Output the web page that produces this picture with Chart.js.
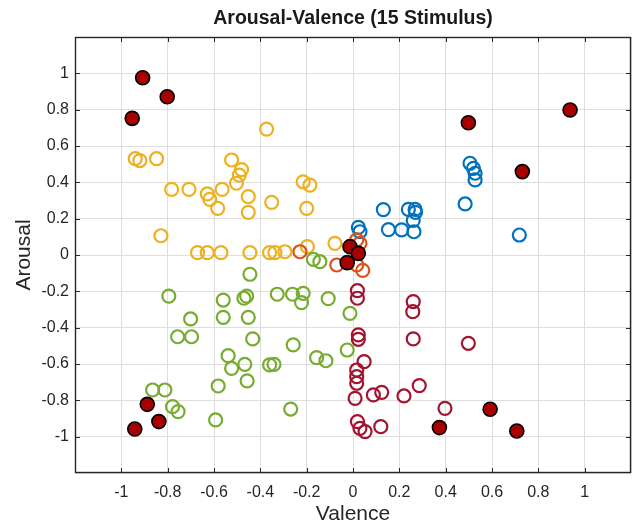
<!DOCTYPE html>
<html>
<head>
<meta charset="utf-8">
<script src="https://cdn.jsdelivr.net/npm/chart.js@4"></script>
<style>
  html, body { margin: 0; padding: 0; background: #ffffff; }
  #wrap { width: 633px; height: 525px; }
</style>
</head>
<body>
<div id="wrap"><canvas id="c" width="633" height="525"></canvas></div>
<script>
// ---- Data (Valence = x, Arousal = y) ----
const titleText = 'Arousal-Valence (15 Stimulus)';
const xTitle = 'Valence';
const yTitle = 'Arousal';
const tickValues = [-1, -0.8, -0.6, -0.4, -0.2, 0, 0.2, 0.4, 0.6, 0.8, 1];

// 15 stimulus points (filled dark red)
const stimX = [-0.908, -0.802, -0.953, 0.498, 0.937, 0.731, -0.013, 0.023, -0.025, -0.888, -0.838, -0.942, 0.373, 0.592, 0.707];
const stimY = [0.976, 0.871, 0.752, 0.728, 0.798, 0.459, 0.046, 0.009, -0.042, -0.822, -0.917, -0.958, -0.950, -0.849, -0.969];

// blue (high valence / high arousal)
const blueX = [0.023, 0.030, 0.131, 0.239, 0.268, 0.260, 0.153, 0.210, 0.263, 0.270, 0.505, 0.520, 0.527, 0.527, 0.484, 0.718];
const blueY = [0.152, 0.128, 0.250, 0.251, 0.251, 0.190, 0.140, 0.138, 0.128, 0.235, 0.505, 0.477, 0.450, 0.413, 0.281, 0.110];

// orange (near neutral)
const orangeX = [0.016, 0.030, -0.070, 0.016, 0.042, -0.229];
const orangeY = [0.083, 0.064, -0.055, -0.055, -0.085, 0.018];

// yellow (low valence / high arousal)
const yellowX = [-0.940, -0.920, -0.848, -0.373, -0.524, -0.481, -0.491, -0.503, -0.783, -0.708, -0.629, -0.618, -0.565,
                 -0.584, -0.452, -0.452, -0.829, -0.671, -0.629, -0.570, -0.445, -0.360, -0.337, -0.294, -0.351, -0.215,
                 -0.186, -0.200, -0.197, -0.078];
const yellowY = [0.530, 0.520, 0.530, 0.693, 0.523, 0.470, 0.440, 0.395, 0.361, 0.361, 0.336, 0.306, 0.361,
                 0.257, 0.321, 0.235, 0.106, 0.013, 0.013, 0.013, 0.013, 0.013, 0.013, 0.018, 0.290, 0.403,
                 0.385, 0.257, 0.046, 0.064];

// green (low valence / low arousal)
const greenX = [-0.445, -0.795, -0.560, -0.459, -0.471, -0.701, -0.757, -0.697, -0.560, -0.452, -0.433, -0.539, -0.524,
                -0.467, -0.457, -0.582, -0.360, -0.865, -0.812, -0.779, -0.755, -0.593, -0.171, -0.143, -0.327, -0.261,
                -0.215, -0.222, -0.107, -0.013, -0.258, -0.157, -0.117, -0.025, -0.341, -0.269];
const greenY = [-0.106, -0.226, -0.248, -0.226, -0.238, -0.352, -0.450, -0.450, -0.343, -0.343, -0.462, -0.554, -0.624,
                -0.602, -0.693, -0.721, -0.605, -0.743, -0.743, -0.835, -0.862, -0.908, -0.024, -0.037, -0.216, -0.216,
                -0.211, -0.262, -0.240, -0.321, -0.495, -0.565, -0.582, -0.523, -0.602, -0.848];

// crimson (high valence / low arousal)
const crimsonX = [0.019, 0.019, 0.260, 0.258, 0.023, 0.023, 0.048, 0.016, 0.016, 0.016, 0.009, 0.088, 0.124, 0.220,
                  0.286, 0.260, 0.019, 0.030, 0.052, 0.120, 0.498, 0.397];
const crimsonY = [-0.196, -0.238, -0.257, -0.312, -0.440, -0.464, -0.587, -0.633, -0.670, -0.706, -0.789, -0.770, -0.756, -0.776,
                  -0.719, -0.462, -0.917, -0.954, -0.972, -0.945, -0.486, -0.844];

function pts(xs, ys) { return xs.map((x, i) => ({ x: x, y: ys[i] })); }

function hollow(label, xs, ys, color) {
  return {
    label: label, data: pts(xs, ys), showLine: false, xAxisID: 'x', yAxisID: 'y',
    pointStyle: 'circle', pointRadius: 6.5, pointHoverRadius: 6.5,
    pointBorderWidth: 2.2, borderColor: color, pointBorderColor: color,
    backgroundColor: 'rgba(0,0,0,0)', pointBackgroundColor: 'rgba(0,0,0,0)'
  };
}

const fmt = v => {
  const r = Math.round(v * 10) / 10;
  if (Math.abs(r) > 1.05) return '';
  return String(r === 0 ? 0 : r);
};

const framePlugin = {
  id: 'frame',
  afterDraw(chart) {
    const { ctx, chartArea: a, scales } = chart;
    ctx.save();
    ctx.strokeStyle = '#262626';
    ctx.lineWidth = 1;
    ctx.beginPath();
    const L = 5;
    for (const v of tickValues) {
      const px = Math.round(scales.x.getPixelForValue(v)) + 0.5;
      ctx.moveTo(px, a.bottom); ctx.lineTo(px, a.bottom - L);
      ctx.moveTo(px, a.top); ctx.lineTo(px, a.top + L);
      const py = Math.round(scales.y.getPixelForValue(v)) + 0.5;
      ctx.moveTo(a.left, py); ctx.lineTo(a.left + L, py);
      ctx.moveTo(a.right, py); ctx.lineTo(a.right - L, py);
    }
    ctx.stroke();
    ctx.lineWidth = 1.4;
    ctx.strokeRect(a.left + 0.5, a.top + 0.5, a.right - a.left - 1, a.bottom - a.top - 1);
    ctx.restore();
  }
};

const bgPlugin = {
  id: 'bg',
  beforeDraw(chart) {
    const ctx = chart.ctx;
    ctx.save();
    ctx.fillStyle = '#ffffff';
    ctx.fillRect(0, 0, chart.width, chart.height);
    ctx.restore();
  }
};

const FONT = "'Liberation Sans', Arial, Helvetica, sans-serif";
const gridColor = '#dedede';

new Chart(document.getElementById('c'), {
  type: 'scatter',
  data: {
    datasets: [
      {
        label: 'Stimulus', data: pts(stimX, stimY), showLine: false, xAxisID: 'x', yAxisID: 'y',
        pointStyle: 'circle', pointRadius: 7, pointHoverRadius: 7,
        pointBorderWidth: 1.6, borderColor: '#000000', pointBorderColor: '#000000',
        backgroundColor: '#a80000', pointBackgroundColor: '#a80000'
      },
      hollow('Orange', orangeX, orangeY, '#D95319'),
      hollow('Blue', blueX, blueY, '#0072BD'),
      hollow('Crimson', crimsonX, crimsonY, '#A2142F'),
      hollow('Green', greenX, greenY, '#77AC30'),
      hollow('Yellow', yellowX, yellowY, '#EDB120')
    ]
  },
  options: {
    responsive: false,
    animation: false,
    devicePixelRatio: 1,
    layout: { autoPadding: false, padding: { left: 0, right: 2, top: 0, bottom: 0 } },
    plugins: {
      legend: { display: false },
      tooltip: { enabled: false },
      title: { display: false }
    },
    scales: {
      x: {
        type: 'linear', min: -1.2, max: 1.2, position: 'bottom',
        afterFit(s) { s.height = 52; s.paddingLeft = 0; s.paddingRight = 0; },
        ticks: { stepSize: 0.2, callback: fmt, color: '#262626', padding: 10, maxRotation: 0, autoSkip: false,
                 font: { family: FONT, size: 16 } },
        grid: { color: gridColor, lineWidth: 1, drawTicks: false },
        border: { display: false },
        title: { display: true, text: xTitle, color: '#262626', padding: { top: 0, bottom: 0 },
                 font: { family: FONT, size: 21, lineHeight: 1 } }
      },
      xTop: {
        type: 'linear', min: -1.2, max: 1.2, position: 'top',
        afterFit(s) { s.height = 37; s.paddingLeft = 0; s.paddingRight = 0; },
        ticks: { display: false },
        grid: { display: false, drawTicks: false },
        border: { display: false },
        title: { display: true, text: titleText, color: '#1a1a1a', padding: { top: 8.5, bottom: 0 },
                 font: { family: FONT, size: 19.5, weight: 'bold', lineHeight: 1 } }
      },
      y: {
        type: 'linear', min: -1.2, max: 1.2,
        afterFit(s) { s.width = 75; s.paddingTop = 0; s.paddingBottom = 0; },
        ticks: { stepSize: 0.2, callback: fmt, color: '#262626', padding: 6, autoSkip: false,
                 font: { family: FONT, size: 16 } },
        grid: { color: gridColor, lineWidth: 1, drawTicks: false },
        border: { display: false },
        title: { display: true, text: yTitle, color: '#262626', padding: { top: 14, bottom: 0 },
                 font: { family: FONT, size: 21, lineHeight: 1 } }
      }
    }
  },
  plugins: [bgPlugin, framePlugin]
});
</script>
</body>
</html>
